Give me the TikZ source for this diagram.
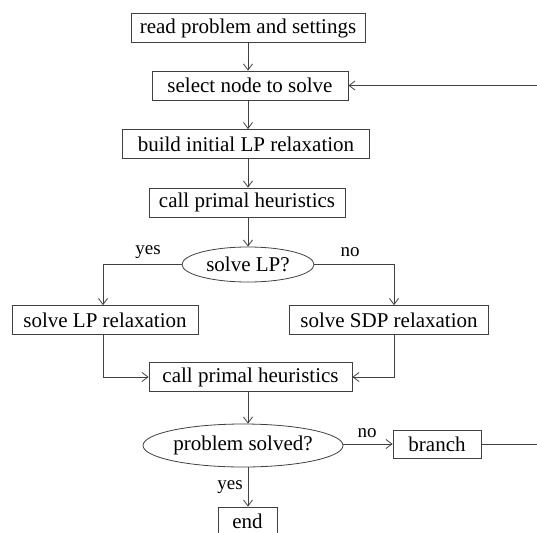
\documentclass[tikz,border=0pt]{standalone}
\usepackage{fontspec}
\setmainfont{Liberation Serif}
\usetikzlibrary{shapes.geometric,arrows.meta}
\begin{document}
\begin{tikzpicture}[x=1pt,y=-1pt,
  every node/.style={font=\fontsize{21}{25}\selectfont, inner sep=0pt},
  box/.style={draw=black!75, line width=0.8pt, rectangle, minimum height=29pt},
  oval/.style={draw=black!75, line width=0.8pt, ellipse},
  conn/.style={draw=black!75, line width=0.8pt},
  arr/.style={conn, -{Straight Barb[length=6pt,width=9pt]}},
  lbl/.style={font=\fontsize{19}{22}\selectfont}]
\useasboundingbox (0,0) rectangle (537,532);
\clip (0,0) rectangle (537,532);
\node[box, minimum width=234pt] (read) at (248,28) {read problem and settings};
\node[box, minimum width=196pt] (select) at (250,85.5) {select node to solve};
\node[box, minimum width=247pt] (build) at (246,144) {build initial LP relaxation};
\node[box, minimum width=196pt] (call1) at (247,202.5) {call primal heuristics};
\node[oval, minimum width=132pt, minimum height=35pt] (solve) at (248,264.5) {solve LP?};
\node[box, minimum width=186pt] (lp) at (105,320) {solve LP relaxation};
\node[box, minimum width=199pt] (sdp) at (389,320) {solve SDP relaxation};
\node[box, minimum width=203pt] (call2) at (250.5,377) {call primal heuristics};
\node[oval, minimum width=200pt, minimum height=43pt] (ps) at (243,445.5) {problem solved?};
\node[box, minimum width=88pt, minimum height=28pt] (branch) at (437,444) {branch};
\node[box, minimum width=59pt, minimum height=28pt] (end) at (247.5,521) {end};
\coordinate (lcol) at (103,0);
\coordinate (rcol) at (394,0);
\coordinate (mcol) at (248,0);
\coordinate (farright) at (560,0);
\draw[arr] (mcol |- read.south) -- (mcol |- select.north);
\draw[arr] (mcol |- select.south) -- (mcol |- build.north);
\draw[arr] (mcol |- build.south) -- (mcol |- call1.north);
\draw[arr] (mcol |- call1.south) -- (mcol |- solve.north);
\draw[arr] (solve.west) -- (lcol |- solve.west) -- (lcol |- lp.north);
\draw[arr] (solve.east) -- (rcol |- solve.east) -- (rcol |- sdp.north);
\node[lbl] (yes1) at (148,252) {yes};
\node[lbl] (no1) at (350,252) {no};
\draw[arr] (lcol |- lp.south) -- (lcol |- call2.west) -- (call2.west);
\draw[arr] (rcol |- sdp.south) -- (rcol |- call2.east) -- (call2.east);
\draw[arr] (mcol |- call2.south) -- (mcol |- ps.north);
\draw[arr] (ps.east |- branch.west) -- (branch.west);
\node[lbl] (no2) at (367,433) {no};
\draw[arr] (mcol |- ps.south) -- (mcol |- end.north);
\node[lbl] (yes2) at (230,487) {yes};
\draw[conn] (branch.east) -- (farright |- branch.east) -- (farright |- select.east);
\draw[arr] (farright |- select.east) -- (select.east);
\end{tikzpicture}
\end{document}
